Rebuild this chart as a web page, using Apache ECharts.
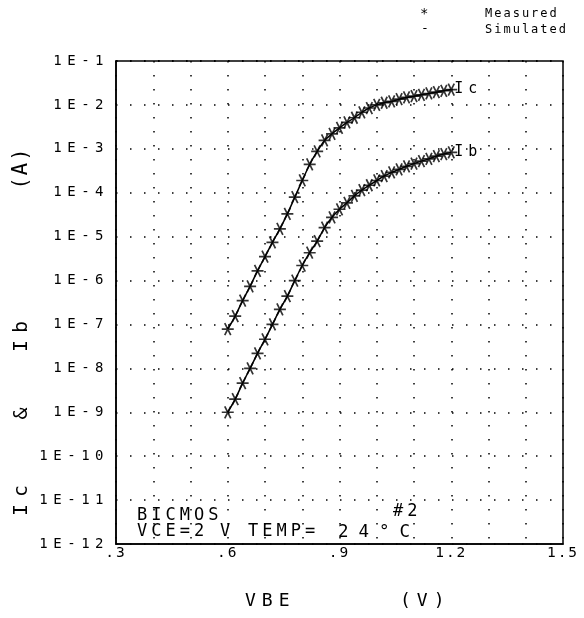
<!DOCTYPE html>
<html>
<head>
<meta charset="utf-8">
<script src="https://cdn.jsdelivr.net/npm/echarts@6/dist/echarts.min.js"></script>
<style>
html,body{margin:0;padding:0;background:#fff;}
#chart{width:584px;height:618px;}
</style>
</head>
<body>
<div id="chart"></div>
<script>
// VBE sweep (V)
var vbe = [0.60,0.62,0.64,0.66,0.68,0.70,0.72,0.74,0.76,0.78,0.80,0.82,0.84,0.86,0.88,0.90,
           0.92,0.94,0.96,0.98,1.00,1.02,1.04,1.06,1.08,1.10,1.12,1.14,1.16,1.18,1.20];
// Collector current Ic (A)
var icValues = [7.8e-8,1.55e-7,3.5e-7,7.4e-7,1.66e-6,3.5e-6,7.4e-6,1.5e-5,3.3e-5,7.9e-5,1.9e-4,4.4e-4,
                8.7e-4,1.55e-3,2.2e-3,3.0e-3,4.0e-3,5.1e-3,6.8e-3,8.5e-3,1.0e-2,1.12e-2,1.2e-2,1.35e-2,
                1.48e-2,1.58e-2,1.7e-2,1.82e-2,1.95e-2,2.1e-2,2.24e-2];
// Base current Ib (A)
var ibValues = [1.0e-9,2.0e-9,4.6e-9,1.0e-8,2.2e-8,4.6e-8,1.0e-7,2.2e-7,4.4e-7,1.0e-6,2.2e-6,4.3e-6,
                7.9e-6,1.6e-5,2.75e-5,4.2e-5,5.9e-5,8.5e-5,1.15e-4,1.48e-4,1.9e-4,2.4e-4,2.9e-4,3.4e-4,
                4.0e-4,4.6e-4,5.25e-4,5.9e-4,6.8e-4,7.6e-4,8.3e-4];
var xTickLabels = {3:'.3',6:'.6',9:'.9',12:'1.2',15:'1.5'};
var legendLabels = ['Measured','Simulated'];

function pairs(xs, ys){ return xs.map(function(x,i){ return [x, ys[i]]; }); }

// wide plotter-style tracking for the monospace texts (keyed by font size)
var FONT = 'DejaVu Sans Mono';
var tracking = {'14px':5.5, '14.5px':2, '12px':2, '17px':4, '17.5px':10, '15px':5, '20px':7, '20.5px':2, '18px':6};
(function(){
  var proto = CanvasRenderingContext2D.prototype;
  var orig = proto.fillText;
  proto.fillText = function(t, x, y, m){
    var f = this.font || '';
    var sp = 0;
    if (f.indexOf('DejaVu Sans Mono') >= 0) {
      var mm = /([\d.]+px)/.exec(f);
      if (mm && tracking[mm[1]] != null) sp = tracking[mm[1]];
    }
    try { this.letterSpacing = sp + 'px'; } catch(e) {}
    return m === undefined ? orig.call(this, t, x, y) : orig.call(this, t, x, y, m);
  };
})();

var star = 'path://M-1,0L1,0M-0.5,-0.87L0.5,0.87M-0.5,0.87L0.5,-0.87';
var chart = echarts.init(document.getElementById('chart'), null, {renderer:'canvas'});
function txt(x, y, s, size, extra){
  var o = {type:'text', x:x, y:y, style:{text:s, font:size+' '+FONT, fill:'#000', textVerticalAlign:'middle'}};
  if (extra) { for (var k in extra) { if (k === 'rotation') o.rotation = extra[k]; else o.style[k] = extra[k]; } }
  return o;
}
var option = {
  backgroundColor:'#fff',
  animation:false,
  grid:{left:116, right:21, top:61, bottom:74, show:true, borderColor:'#000', borderWidth:1.5},
  xAxis:{
    type:'value', min:0.3, max:1.5, interval:0.1,
    axisLine:{show:true, lineStyle:{color:'#000', width:1.5}},
    axisTick:{show:false},
    axisLabel:{color:'#000', fontFamily:FONT, fontSize:14.5, margin:2,
      formatter:function(v){ var r=Math.round(v*10); return xTickLabels[r]||''; }},
    splitLine:{show:true, lineStyle:{color:'#000', width:1.5, type:[1.5,12.5]}}
  },
  yAxis:{
    type:'log', logBase:10, min:1e-12, max:1e-1, interval:1,
    axisLine:{show:true, lineStyle:{color:'#000', width:1.5}},
    axisTick:{show:false},
    axisLabel:{color:'#000', fontFamily:FONT, fontSize:14, margin:7,
      formatter:function(v){ return '1E' + Math.round(Math.log10(v)); }},
    splitLine:{show:true, lineStyle:{color:'#000', width:1.5, type:[1.5,12.5]}}
  },
  series:[
    {name:'Ic simulated', type:'line', data:pairs(vbe, icValues), showSymbol:false, smooth:0.3,
     lineStyle:{color:'#000', width:1.5},
     endLabel:{show:true, formatter:'Ic', color:'#000', fontFamily:FONT, fontSize:15, distance:3}},
    {name:'Ib simulated', type:'line', data:pairs(vbe, ibValues), showSymbol:false, smooth:0.3,
     lineStyle:{color:'#000', width:1.5},
     endLabel:{show:true, formatter:'Ib', color:'#000', fontFamily:FONT, fontSize:15, distance:3}},
    {name:'Ic measured', type:'scatter', data:pairs(vbe, icValues), symbol:star, symbolSize:12,
     itemStyle:{color:'rgba(0,0,0,0)', borderColor:'#000', borderWidth:1.7}},
    {name:'Ib measured', type:'scatter', data:pairs(vbe, ibValues), symbol:star, symbolSize:12,
     itemStyle:{color:'rgba(0,0,0,0)', borderColor:'#000', borderWidth:1.7}}
  ],
  graphic:[
    txt(420, 14, '*', '14px'),
    txt(485, 14, legendLabels[0], '12px'),
    txt(421, 29, '-', '13px'),
    txt(485, 30, legendLabels[1], '12px'),
    txt(22, 497, 'Ic', '20px', {rotation:Math.PI/2, textAlign:'center'}),
    txt(22, 410, '&', '20px', {rotation:Math.PI/2, textAlign:'center'}),
    txt(22, 333, 'Ib', '20px', {rotation:Math.PI/2, textAlign:'center'}),
    txt(22, 168, '(A)', '20.5px', {rotation:Math.PI/2, textAlign:'center'}),
    txt(245, 601, 'VBE', '18px'),
    txt(400, 601, '(V)', '18px'),
    txt(137, 516, 'BICMOS', '17px'),
    txt(393, 512, '#2', '17px'),
    txt(137, 532, 'VCE=2', '17px'),
    txt(220, 532, 'V', '17px'),
    txt(248, 532, 'TEMP=', '17px'),
    txt(338, 532, '24°C', '17.5px')
  ]
};
chart.setOption(option);
</script>
</body>
</html>
